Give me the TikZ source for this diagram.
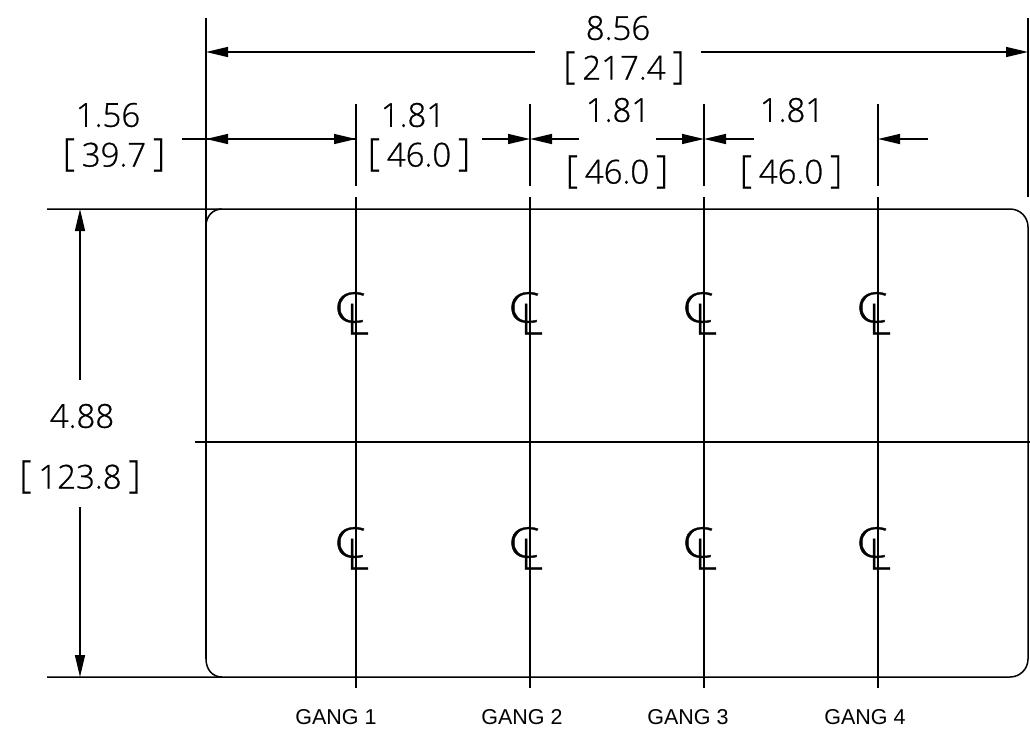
\documentclass[tikz,border=0pt]{standalone}
\usepackage{fontspec}
\setmainfont{Liberation Sans}
\newfontfamily\thinfont[FakeBold=0.8]{Open Sans Light}
\usetikzlibrary{arrows.meta}
\tikzset{
  x=1pt,y=-1pt,
  ln/.style={line width=1.5pt,black},
  dim/.style={ln,{Triangle[length=22pt,width=10pt]}-},
  dimtxt/.style={inner sep=0pt,font=\thinfont\fontsize{33}{33}\selectfont},
  gang/.style={inner sep=0pt,font=\fontsize{21.5}{22}\selectfont},
  clc/.style={inner sep=0pt,font=\thinfont\fontsize{42}{42}\selectfont},
  cll/.style={inner sep=0pt,font=\thinfont\fontsize{43}{43}\selectfont},
}
\newcommand{\brk}[1]{{\fontsize{38}{38}\selectfont\raisebox{1pt}{[}}\kern7pt#1\kern7pt{\fontsize{38}{38}\selectfont\raisebox{1pt}{]}}}
\begin{document}
\begin{tikzpicture}
\useasboundingbox (0,0) rectangle (1030,732);
% reference coordinates
\coordinate (lt) at (206,18); \coordinate (lb) at (206,226);
\coordinate (rt) at (1028,18); \coordinate (rb) at (1028,197);
\coordinate (topL) at (47,209); \coordinate (topR) at (1010,209);
\coordinate (midL) at (195,442); \coordinate (midR) at (1030,442);
\coordinate (botL) at (47,677);
% outline
\draw[ln] (topL) -- (topR) .. controls (1020,209) and (1028,217) .. (1028,227)
  -- (1028,659) .. controls (1028,669) and (1020,677) .. (1010,677) -- (botL);
\draw[ln] (lb) .. controls (206,216) and (213,209) .. (222,209);
\draw[ln] (222,677) .. controls (213,677) and (206,670) .. (206,659);
\draw[ln] (lt) -- (206,659);
\draw[ln] (rt) -- (rb);
\draw[ln] (midL) -- (midR);
% gang lines
\foreach \n/\x in {a/356,b/530,c/704,d/878}{
  \coordinate (\n1) at (\x,104); \coordinate (\n2) at (\x,186);
  \coordinate (\n3) at (\x,197); \coordinate (\n4) at (\x,688);
  \draw[ln] (\n1) -- (\n2);
  \draw[ln] (\n3) -- (\n4);
}
% centreline marks
\foreach \x in {356,530,704,878}{
  \foreach \y in {0,235}{
    \node[clc] at (\x-6,\y+307.5) {\scalebox{1.2}[1]{C}};
    \node[cll,anchor=south west] at (\x-9.5,\y+334.7) {L};
  }
}
% overall width
\coordinate (w1) at (206,52); \coordinate (w2) at (535,52);
\coordinate (w3) at (1028,52); \coordinate (w4) at (701,52);
\draw[dim] (w1) -- (w2);
\draw[dim] (w3) -- (w4);
% row of dims
\coordinate (r0) at (206,139);
\coordinate (r0s) at (182,139);
\draw[ln] (r0s) -- (r0);
\draw[dim] (r0) -- (a2 |- r0);
\draw[dim] (a2 |- r0) -- (r0);
\draw[dim] (530,139) -- (482,139);
\draw[dim] (530,139) -- (579,139);
\draw[dim] (704,139) -- (656,139);
\draw[dim] (704,139) -- (753.5,139);
\draw[dim] (878,139) -- (928,139);
% height
\coordinate (h1) at (80,209); \coordinate (h2) at (80,380);
\coordinate (h3) at (80,677); \coordinate (h4) at (80,507);
\draw[dim] (h1) -- (h2);
\draw[dim] (h3) -- (h4);
% texts
\node[dimtxt] (t1) at (618,28) {8.56};
\node[dimtxt] (t2) at (624,68) {\brk{217.4}};
\node[dimtxt] (t3) at (108,115) {1.56};
\node[dimtxt] (t4) at (114,155) {\brk{39.7}};
\node[dimtxt] (t5) at (413,115) {1.81};
\node[dimtxt] (t6) at (419,155) {\brk{46.0}};
\node[dimtxt] (t7) at (618,110) {1.81};
\node[dimtxt] (t8) at (617,172) {\brk{46.0}};
\node[dimtxt] (t9) at (792,110) {1.81};
\node[dimtxt] (t10) at (791,172) {\brk{46.0}};
\node[dimtxt] (t11) at (82,416) {4.88};
\node[dimtxt] (t12) at (80,477) {\brk{123.8}};
\node[gang] (g1) at (336,717) {GANG 1};
\node[gang] (g2) at (522,717) {GANG 2};
\node[gang] (g3) at (688,717) {GANG 3};
\node[gang] (g4) at (865,717) {GANG 4};
\end{tikzpicture}
\end{document}
